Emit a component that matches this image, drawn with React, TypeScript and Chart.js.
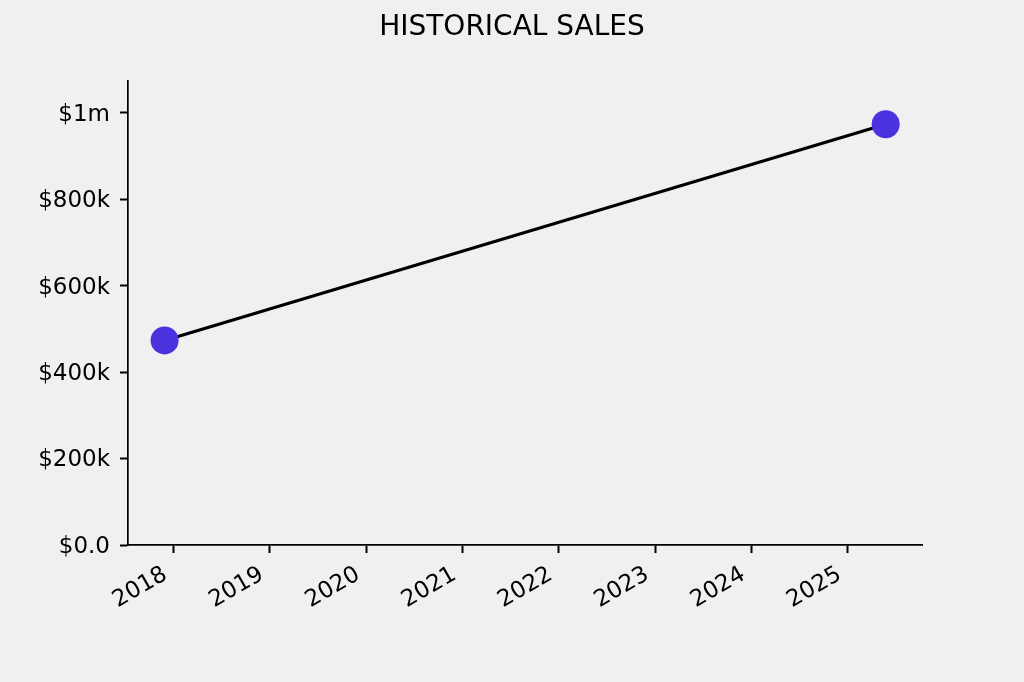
import React, { useEffect, useRef } from "react";
import { Chart, registerables } from "chart.js";

Chart.register(...registerables);

const chartTitle = "HISTORICAL SALES";
const saleYears = [2017.907, 2025.394];
const saleValues = [473000, 973000];
const xTickYears = [2018, 2019, 2020, 2021, 2022, 2023, 2024, 2025];
const yTickValues = [0, 200000, 400000, 600000, 800000, 1000000];
const yTickLabels = ["$0.0", "$200k", "$400k", "$600k", "$800k", "$1m"];

const X_MIN = 2017.527;
const X_MAX = 2025.771;
const Y_MIN = 0;
const Y_MAX = 1073000;

const FONT = "'DejaVu Sans', sans-serif";

export default function App() {
  const canvasRef = useRef<HTMLCanvasElement | null>(null);

  useEffect(() => {
    document.body.style.margin = "0";
    document.body.style.background = "#f0f0f0";
    const canvas = canvasRef.current;
    if (!canvas) return;

    const bgPlugin = {
      id: "bgPlugin",
      beforeDraw(chart: any) {
        const ctx = chart.ctx;
        ctx.save();
        ctx.fillStyle = "#f0f0f0";
        ctx.fillRect(0, 0, chart.width, chart.height);
        ctx.restore();
      },
      afterDraw(chart: any) {
        const ctx = chart.ctx;
        ctx.save();
        ctx.fillStyle = "#000000";
        ctx.font = `28px ${FONT}`;
        ctx.textAlign = "center";
        ctx.textBaseline = "alphabetic";
        ctx.fillText(chartTitle, chart.width / 2, 35);
        ctx.restore();
      },
    };

    const chart = new Chart(canvas, {
      type: "line",
      data: {
        datasets: [
          {
            data: saleYears.map((x, i) => ({ x, y: saleValues[i] })),
            borderColor: "#000000",
            borderWidth: 3.2,
            pointRadius: 14,
            pointHoverRadius: 14,
            pointBackgroundColor: "#4a33de",
            pointBorderColor: "#4a33de",
            pointBorderWidth: 0,
            tension: 0,
          },
        ],
      },
      plugins: [bgPlugin],
      options: {
        animation: false,
        responsive: false,
        events: [],
        layout: { padding: { top: 81, right: 102, bottom: 0, left: 0 } },
        plugins: {
          legend: { display: false },
          title: { display: false },
          tooltip: { enabled: false },
        },
        scales: {
          x: {
            type: "linear",
            min: X_MIN,
            max: X_MAX,
            afterBuildTicks(scale: any) {
              scale.ticks = xTickYears.map((v) => ({ value: v }));
            },
            afterFit(scale: any) {
              scale.height = 137;
            },
            border: { display: true, color: "#000000", width: 1.7 },
            grid: {
              display: true,
              drawOnChartArea: false,
              drawTicks: true,
              tickLength: 8,
              tickWidth: 2,
              tickColor: "#000000",
            },
            ticks: {
              autoSkip: false,
              maxRotation: 30,
              minRotation: 30,
              padding: 8,
              labelOffset: -8,
              color: "#000000",
              font: { family: FONT, size: 23 },
              callback: (v: any) => String(v),
            },
          },
          y: {
            type: "linear",
            min: Y_MIN,
            max: Y_MAX,
            afterBuildTicks(scale: any) {
              scale.ticks = yTickValues.map((v) => ({ value: v }));
            },
            afterFit(scale: any) {
              scale.width = 128;
            },
            border: { display: true, color: "#000000", width: 1.7 },
            grid: {
              display: true,
              drawOnChartArea: false,
              drawTicks: true,
              tickLength: 8,
              tickWidth: 2,
              tickColor: "#000000",
            },
            ticks: {
              autoSkip: false,
              padding: 10,
              labelOffset: 2,
              color: "#000000",
              font: { family: FONT, size: 23 },
              callback: (v: any) => {
                const idx = yTickValues.indexOf(Number(v));
                return idx >= 0 ? yTickLabels[idx] : "";
              },
            },
          },
        },
      },
    });

    return () => {
      chart.destroy();
    };
  }, []);

  return (
    <div
      style={{
        position: "fixed",
        left: 0,
        top: 0,
        width: 1024,
        height: 682,
        background: "#f0f0f0",
      }}
    >
      <canvas
        ref={canvasRef}
        width={1024}
        height={682}
        style={{ display: "block", width: 1024, height: 682 }}
      />
    </div>
  );
}
